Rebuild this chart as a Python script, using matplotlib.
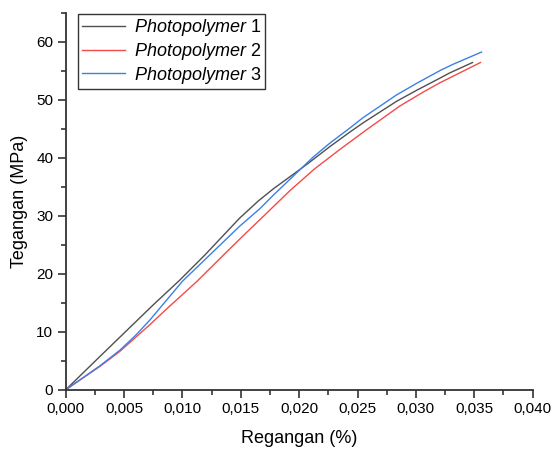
import matplotlib
matplotlib.use("Agg")
import matplotlib.pyplot as plt
from matplotlib.ticker import MultipleLocator, FuncFormatter

plt.rcParams['font.family'] = ['Liberation Sans', 'DejaVu Sans']
plt.rcParams['mathtext.fontset'] = 'custom'
plt.rcParams['mathtext.it'] = 'Liberation Sans:italic'
plt.rcParams['mathtext.rm'] = 'Liberation Sans'

labels = [r"$\mathit{Photopolymer}$ 1", r"$\mathit{Photopolymer}$ 2", r"$\mathit{Photopolymer}$ 3"]
colors = ["#505050", "#f44a4a", "#3a80e8"]

x1 = [0, 0.00291, 0.00748, 0.00977, 0.01191, 0.01491, 0.01648, 0.01777, 0.02063, 0.02263,
      0.02434, 0.02548, 0.02834, 0.03006, 0.03206, 0.0329, 0.03486]
y1 = [0, 5.7, 14.6, 18.9, 23.2, 29.6, 32.5, 34.6, 38.8, 41.9,
      44.4, 46.0, 49.7, 51.6, 53.7, 54.6, 56.4]

x2 = [0, 0.00291, 0.00463, 0.0072, 0.00863, 0.0112, 0.01406, 0.01549, 0.01663, 0.0192,
      0.02134, 0.02348, 0.02577, 0.02863, 0.03063, 0.03206, 0.03554]
y2 = [0, 4.0, 6.6, 11.2, 13.9, 18.6, 24.3, 27.1, 29.3, 34.3,
      38.1, 41.4, 44.8, 48.9, 51.3, 52.9, 56.4]

x3 = [0, 0.00291, 0.00463, 0.0060, 0.0072, 0.0100, 0.01491, 0.01663, 0.01777, 0.0212, 0.02263,
      0.02434, 0.02548, 0.02834, 0.03006, 0.03206, 0.0332, 0.03563]
y3 = [0, 4.1, 6.8, 9.4, 12.0, 18.7, 28.2, 31.2, 33.5, 40.1, 42.5,
      45.1, 46.9, 50.8, 52.8, 55.0, 56.1, 58.2]

fig = plt.figure(figsize=(5.53, 4.5), dpi=100)
ax = fig.add_axes([0.119, 0.134, 0.844, 0.838])

for xs, ys, c, lab in zip([x1, x2, x3], [y1, y2, y3], colors, labels):
    ax.plot(xs, ys, color=c, lw=1.0, label=lab)

ax.set_xlim(0, 0.040)
ax.set_ylim(0, 65)
ax.xaxis.set_major_locator(MultipleLocator(0.005))
ax.xaxis.set_minor_locator(MultipleLocator(0.0025))
ax.yaxis.set_major_locator(MultipleLocator(10))
ax.yaxis.set_minor_locator(MultipleLocator(5))
ax.xaxis.set_major_formatter(FuncFormatter(lambda v, p: f"{v:.3f}".replace('.', ',')))

for s in ['top', 'right']:
    ax.spines[s].set_visible(False)
for s in ['left', 'bottom']:
    ax.spines[s].set_linewidth(1.3)
    ax.spines[s].set_color('#333333')

ax.tick_params(which='major', direction='out', length=6, width=1.2, color='#333333', labelsize=11, pad=3)
ax.tick_params(which='minor', direction='out', length=3.5, width=1.2, color='#333333')

ax.set_xlabel("Regangan (%)", fontsize=13, labelpad=10)
ax.set_ylabel("Tegangan (MPa)", fontsize=13, labelpad=6)

leg = ax.legend(loc='upper left', bbox_to_anchor=(0.027, 0.997), fontsize=13,
                frameon=True, fancybox=False, edgecolor='black', handlelength=2.4,
                labelspacing=0.15, borderpad=0.2, handletextpad=0.5, borderaxespad=0)
leg.get_frame().set_linewidth(1.0)

fig.savefig("out.png", dpi=100)
